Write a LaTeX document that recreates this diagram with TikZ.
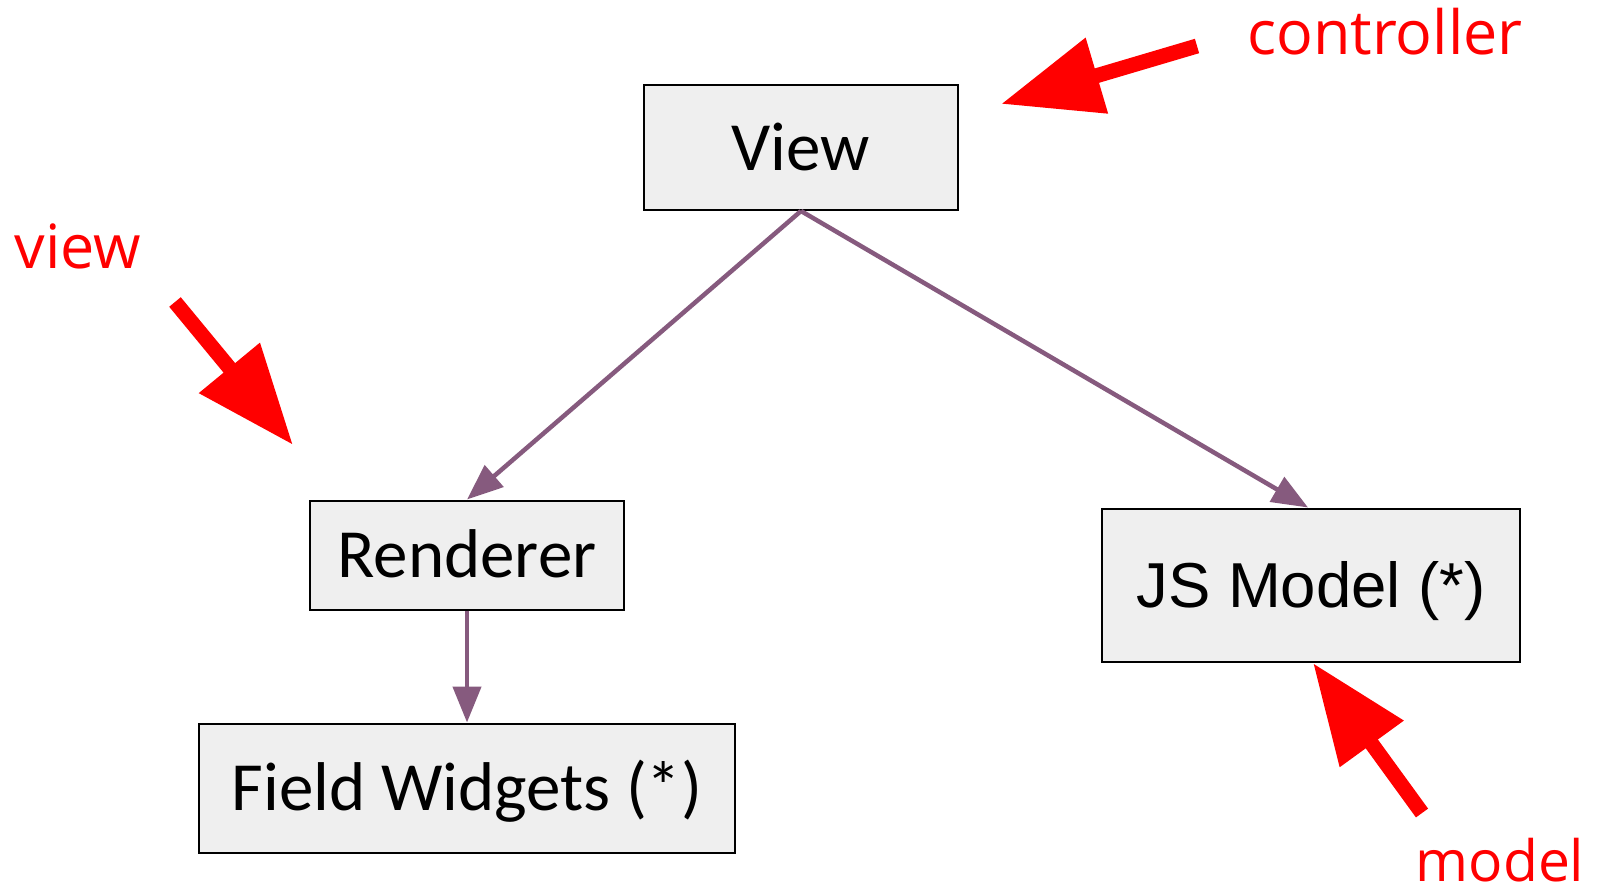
\documentclass[tikz,border=0pt]{standalone}
\usepackage{fontspec}
\usepackage{tikz}
\usetikzlibrary{arrows.meta}
\setmainfont{Carlito}
\newfontfamily\arialfont{Liberation Sans}
\newfontfamily\notefont{Open Sans}
\definecolor{boxgray}{HTML}{EFEFEF}
\definecolor{linkpurple}{HTML}{865A7E}

\begin{document}
\begin{tikzpicture}[x=1pt,y=-1pt,
  box/.style={draw=black,line width=2pt,fill=boxgray,inner sep=0pt,text height=45pt,text depth=0pt},
  link/.style={draw=linkpurple,line width=4.5pt,-{Triangle[length=36pt,width=28pt]}},
  hint/.style={draw=red,line width=15pt,-{Triangle[length=100pt,width=75pt]}},
  note/.style={text=red,anchor=base,inner sep=0pt,font=\notefont\fontsize{61}{70}\selectfont}]
\useasboundingbox (0,0) rectangle (1602,891);
\node[box,minimum width=314pt,minimum height=125pt,font=\fontsize{69}{80}\selectfont] (view) at (801,147.5) {View};
\node[box,minimum width=314pt,minimum height=109pt,font=\fontsize{69}{80}\selectfont] (renderer) at (467,555) {Renderer};
\node[box,minimum width=536pt,minimum height=129pt,font=\fontsize{69}{80}\selectfont] (widgets) at (467,788) {Field Widgets (*)};
\node[box,minimum width=418pt,minimum height=153pt,font=\arialfont\fontsize{63.5}{72}\selectfont] (jsmodel) at (1311,585) {JS Model (*)};
\draw[link] (view.south) -- (renderer.north);
\draw[link] (view.south) -- ([xshift=-3pt]jsmodel.north);
\draw[link] (renderer.south) -- (widgets.north);
\node[note] (lblcontroller) at (1385,55) {controller};
\node[note] (lblview) at (78,268) {view};
\node[note,font=\notefont\fontsize{57}{66}\selectfont] (lblmodel) at (1500,881) {model};
\coordinate (ctrltail) at (1197,46);
\coordinate (ctrltip) at (1001,104);
\coordinate (viewtail) at (175,302);
\coordinate (viewtip) at (293,445);
\coordinate (modeltail) at (1422,813);
\coordinate (modeltip) at (1313,663);
\draw[hint] (ctrltail) -- (ctrltip);
\draw[hint] (viewtail) -- (viewtip);
\draw[hint] (modeltail) -- (modeltip);
\end{tikzpicture}
\end{document}
